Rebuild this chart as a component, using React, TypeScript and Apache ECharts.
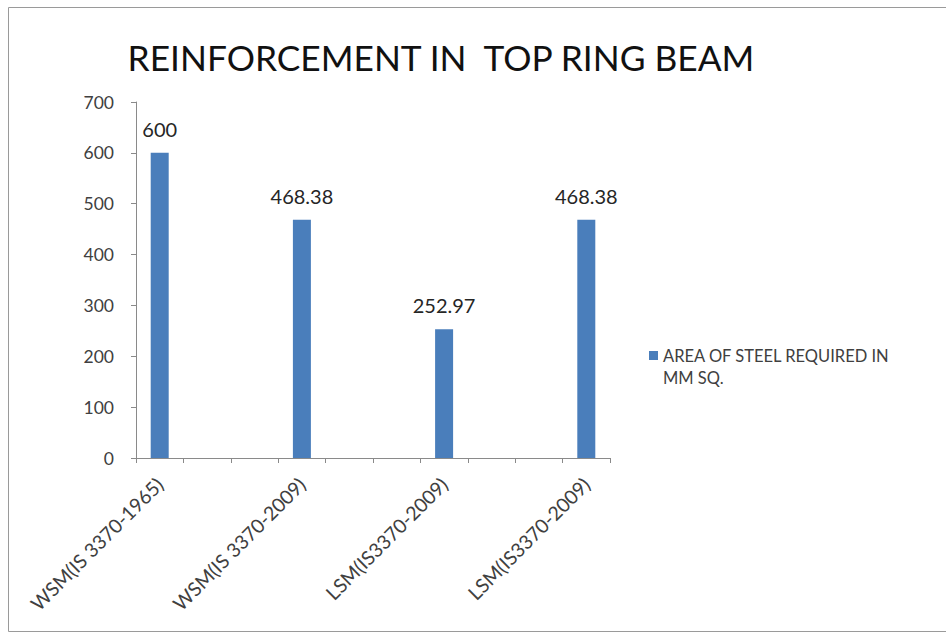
import React, { useEffect, useRef } from "react";
import * as echarts from "echarts";

const titleText = "REINFORCEMENT IN  TOP RING BEAM";
const seriesName = "AREA OF STEEL REQUIRED IN\nMM SQ.";
const categories = [
  "WSM(IS 3370-1965)", "", "",
  "WSM(IS 3370-2009)", "", "",
  "LSM(IS3370-2009)", "", "",
  "LSM(IS3370-2009)",
];
const steelArea: (number | null)[] = [600, null, null, 468.38, null, null, 252.97, null, null, 468.38];
const yMin = 0;
const yMax = 700;
const yStep = 100;

const FONT = "Lato, 'Open Sans', sans-serif";
const legendLines = seriesName.split("\n");

export default function App() {
  const ref = useRef<HTMLDivElement>(null);
  useEffect(() => {
    if (!ref.current) return;
    const chart = echarts.init(ref.current, null, { renderer: "svg" });
    chart.setOption({
      animation: false,
      backgroundColor: "#ffffff",
      textStyle: { fontFamily: FONT },
      title: {
        text: titleText,
        left: 441,
        textAlign: "center",
        top: 40,
        padding: 0,
        textStyle: { fontFamily: FONT, fontSize: 35.3, fontWeight: "normal", color: "#111111" },
      },
      graphic: [
        {
          type: "rect",
          silent: true,
          z: -10,
          shape: { x: 8.5, y: 7.5, width: 950, height: 624 },
          style: { fill: "none", stroke: "#9a9a9a", lineWidth: 1 },
        },
        {
          type: "text",
          silent: true,
          left: 663,
          top: 369,
          style: {
            text: legendLines[1],
            font: `16.5px ${FONT}`,
            lineHeight: 15,
            fill: "#404040",
          },
        },
      ],
      legend: {
        orient: "vertical",
        left: 649,
        top: 347,
        padding: 0,
        icon: "rect",
        itemWidth: 9,
        itemHeight: 9,
        data: [seriesName],
        formatter: (name: string) => name.split("\n")[0],
        textStyle: {
          fontFamily: FONT,
          fontSize: 16.5,
          lineHeight: 15,
          color: "#404040",
        },
      },
      grid: { left: 136, top: 102, right: 336, bottom: 178 },
      xAxis: {
        type: "category",
        data: categories,
        axisLine: { show: true, lineStyle: { color: "#8a8a8a", width: 1 } },
        axisTick: { show: true, interval: 0, length: 5, lineStyle: { color: "#8a8a8a" } },
        axisLabel: {
          interval: 0,
          rotate: 45,
          margin: 23,
          fontFamily: FONT,
          fontSize: 19.5,
          color: "#404040",
        },
        splitLine: { show: false },
      },
      yAxis: {
        type: "value",
        min: yMin,
        max: yMax,
        interval: yStep,
        axisLine: { show: true, lineStyle: { color: "#8a8a8a", width: 1 } },
        axisTick: { show: true, length: 5, lineStyle: { color: "#8a8a8a" } },
        axisLabel: { margin: 22, fontFamily: FONT, fontSize: 17.5, color: "#404040" },
        splitLine: { show: false },
      },
      series: [
        {
          name: seriesName,
          type: "bar",
          data: steelArea,
          barWidth: 18,
          itemStyle: { color: "#4a7ebb" },
          label: {
            show: true,
            position: "top",
            distance: 14,
            fontFamily: FONT,
            fontSize: 20,
            color: "#262626",
          },
        },
      ],
    });
    return () => chart.dispose();
  }, []);
  return (
    <div
      ref={ref}
      style={{ position: "fixed", left: 0, top: 0, width: 946, height: 636, background: "#fff" }}
    />
  );
}
